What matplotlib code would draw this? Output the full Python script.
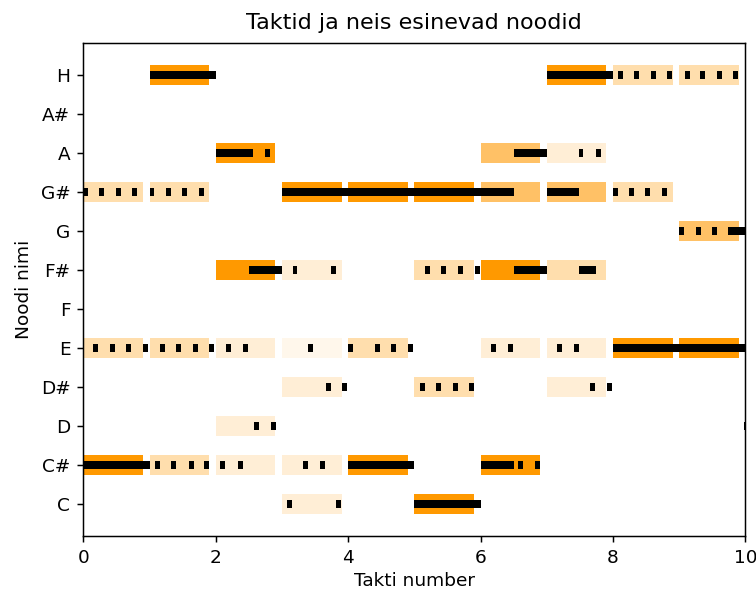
import matplotlib
matplotlib.use('Agg')
import matplotlib.pyplot as plt

# noodid alt üles
noodid = ['C', 'C#', 'D', 'D#', 'E', 'F', 'F#', 'G', 'G#', 'A', 'A#', 'H']

# mis taktides noot esineb ja kui tugevalt (alpha)
T, M, L, VL, XL = 1.0, 0.6, 0.32, 0.16, 0.08
taktid = {
    'H':  [1, 7, 8, 9],
    'A':  [2, 6, 7],
    'G#': [0, 1, 3, 4, 5, 6, 7, 8],
    'G':  [9],
    'F#': [2, 3, 5, 6, 7],
    'E':  [0, 1, 2, 3, 4, 6, 7, 8, 9],
    'D#': [3, 5, 7],
    'D':  [2],
    'C#': [0, 1, 2, 3, 4, 6],
    'C':  [3, 5],
}
takt_alpha = {
    'H':  [T, T, L, L],
    'A':  [T, M, VL],
    'G#': [L, L, T, T, T, M, M, L],
    'G':  [M],
    'F#': [T, VL, L, T, L],
    'E':  [L, L, VL, XL, L, VL, VL, T, T],
    'D#': [VL, L, VL],
    'D':  [VL],
    'C#': [T, L, VL, VL, T, T],
    'C':  [VL, T],
}

# noodid: algus ja pikkus (taktides)
s = 0.075
noodi_algus = {
    'H':  [1.0, 7.0, 8.07, 8.32, 8.57, 8.82, 9.09, 9.32, 9.575, 9.82],
    'A':  [2.0, 2.75, 6.5, 7.48, 7.74],
    'G#': [0.0, 0.24, 0.49, 0.74, 1.0, 1.25, 1.49, 1.75, 3.0, 7.0, 8.0, 8.24, 8.49, 8.74],
    'G':  [9.0, 9.25, 9.49, 9.74],
    'F#': [2.5, 3.16, 3.74, 5.16, 5.41, 5.66, 5.91, 6.5, 7.49],
    'E':  [0.15, 0.4, 0.65, 0.9, 1.16, 1.4, 1.65, 1.9, 2.15, 2.41, 3.4,
           4.0, 4.41, 4.65, 4.91, 6.16, 6.41, 7.16, 7.41, 8.0],
    'D#': [3.66, 3.91, 5.08, 5.33, 5.58, 5.83, 7.66, 7.91],
    'D':  [2.58, 2.84, 9.985],
    'C#': [0.0, 1.08, 1.33, 1.59, 1.83, 2.07, 2.33, 3.32, 3.58, 4.0, 6.0, 6.57, 6.82],
    'C':  [3.07, 3.82, 5.0],
}
noodi_pikkus = {
    'H':  [1.0, 1.0, s, s, s, s, s, s, s, s],
    'A':  [0.57, s, 0.5, s, s],
    'G#': [s, s, s, s, s, s, s, s, 3.5, 0.49, s, s, s, s],
    'G':  [s, s, s, 0.5],
    'F#': [0.5, s, s, s, s, s, s, 0.5, 0.25],
    'E':  [s] * 19 + [2.0],
    'D#': [s] * 8,
    'D':  [s, s, s],
    'C#': [1.0, s, s, s, s, s, s, s, s, 1.0, 0.5, s, s],
    'C':  [s, s, 1.0],
}

DPI = 133.4
fig = plt.figure(figsize=(756 / DPI, 589 / DPI), dpi=DPI)
ax = fig.add_axes([0.1102, 0.0900, 0.8757, 0.8376])

for noot, tl in taktid.items():
    y = noodid.index(noot)
    for t, a in zip(tl, takt_alpha[noot]):
        ax.barh(y, 0.9, left=t, height=0.5, color='#ff9900', alpha=a,
                linewidth=0, zorder=1)

for noot, al in noodi_algus.items():
    y = noodid.index(noot)
    ax.barh([y] * len(al), noodi_pikkus[noot], left=al, height=0.2,
            color='black', linewidth=0, zorder=2)

ax.set_yticks(range(len(noodid)))
ax.set_yticklabels(noodid)
ax.set_xlim(0, 10)
ax.set_ylim(-0.825, 11.825)
ax.set_title('Taktid ja neis esinevad noodid', pad=7.5)
ax.set_xlabel('Takti number', labelpad=2.5)
ax.set_ylabel('Noodi nimi')

fig.savefig('out.png', dpi=DPI)
